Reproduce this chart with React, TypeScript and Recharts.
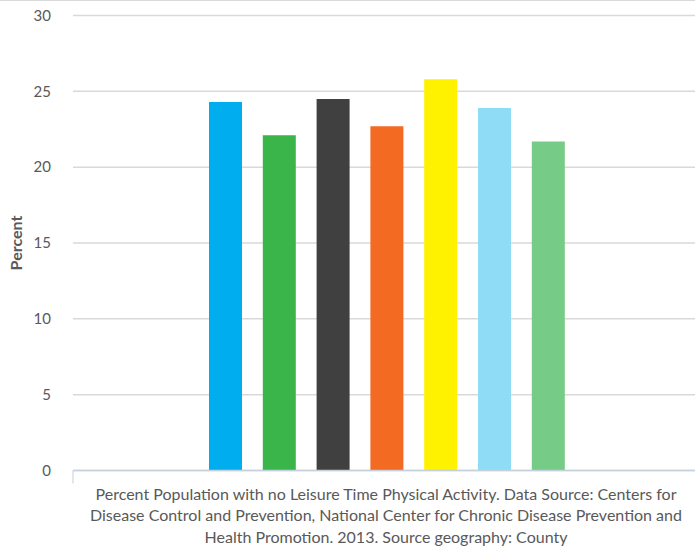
import React from 'react';
import { BarChart, Bar, XAxis, YAxis, CartesianGrid, Label } from 'recharts';

const categories = ['Percent Population with no Leisure Time Physical Activity'];
const seriesNames = ['Series 1', 'Series 2', 'Series 3', 'Series 4', 'Series 5', 'Series 6', 'Series 7'];
const seriesValues = [24.3, 22.1, 24.5, 22.7, 25.8, 23.9, 21.7];
const seriesColors = ['#00aeef', '#39b54a', '#404040', '#f36a22', '#fff200', '#8fdcf7', '#76cc86'];
const yTicks = [0, 5, 10, 15, 20, 25, 30];
const captionLines = [
  'Percent Population with no Leisure Time Physical Activity. Data Source: Centers for',
  'Disease Control and Prevention, National Center for Chronic Disease Prevention and',
  'Health Promotion. 2013. Source geography: County',
];

const data = categories.map((c) => {
  const row: Record<string, any> = { category: c };
  seriesNames.forEach((n, i) => {
    row[n] = seriesValues[i];
  });
  return row;
});

const FONT = 'Lato, "Noto Sans", sans-serif';

const Caption = (props: any) => {
  const vb = props.viewBox || {};
  const cx = vb.x + vb.width / 2 + 2;
  return (
    <g>
      <line x1={vb.x} x2={vb.x} y1={vb.y} y2={vb.y + 13} stroke="#c5d0dd" strokeWidth={1} />
      {captionLines.map((t, i) => (
        <text
          key={i}
          x={cx}
          y={vb.y + 22.5 + i * 21.5}
          textAnchor="middle"
          dominantBaseline="central"
          fill="#595959"
          fontSize={16}
          fontFamily={FONT}
        >
          {t}
        </text>
      ))}
    </g>
  );
};

const YLabel = (props: any) => {
  const vb = props.viewBox || {};
  const x = vb.x + 15;
  const y = vb.y + vb.height / 2;
  return (
    <text
      x={x}
      y={y}
      transform={`rotate(-90, ${x}, ${y})`}
      textAnchor="middle"
      dominantBaseline="central"
      fill="#595959"
      fontSize={16}
      fontWeight="bold"
      fontFamily={FONT}
    >
      Percent
    </text>
  );
};

export default function App() {
  return (
    <div style={{ width: 695, height: 548, position: 'relative', background: '#fff' }}>
      <style>{'body{margin:0}'}</style>
      <div style={{ position: 'absolute', left: 0, top: 0, width: 695, height: 1, background: '#d9d9d9' }} />
      <BarChart
        width={695}
        height={548}
        data={data}
        margin={{ top: 15.5, right: 0, bottom: 0, left: 0 }}
        barGap={20.8}
        barSize={33}
      >
        <CartesianGrid vertical={false} stroke="#d9d9d9" strokeWidth={1.5} />
        <XAxis
          dataKey="category"
          height={77.5}
          tick={false}
          tickLine={false}
          axisLine={{ stroke: '#c5d0dd', strokeWidth: 1.5 }}
          padding={{ left: 6, right: 0 }}
        >
          <Label content={<Caption />} />
        </XAxis>
        <YAxis
          width={73}
          domain={[0, 30]}
          ticks={yTicks}
          axisLine={false}
          tickLine={false}
          tickSize={10}
          tickMargin={12}
          tick={{ fill: '#595959', fontSize: 15, fontFamily: FONT }}
        >
          <Label content={<YLabel />} />
        </YAxis>
        {seriesNames.map((n, i) => (
          <Bar key={n} dataKey={n} fill={seriesColors[i]} isAnimationActive={false} />
        ))}
      </BarChart>
    </div>
  );
}
